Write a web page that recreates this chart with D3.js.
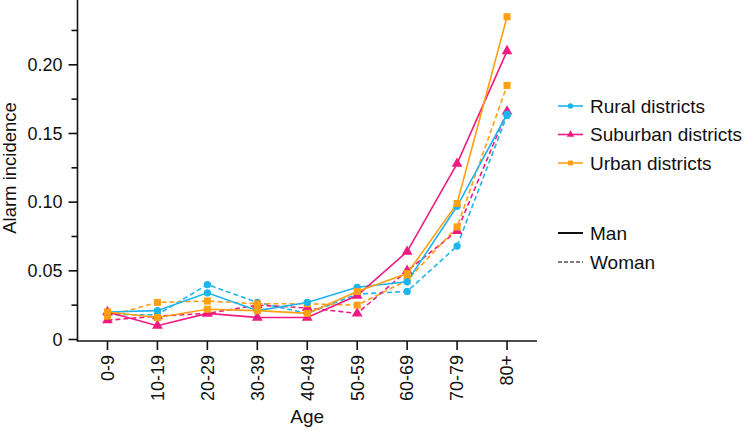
<!DOCTYPE html>
<html lang="en">
<head>
  <meta charset="UTF-8">
  <title>Alarm incidence by age</title>
  <script src="https://d3js.org/d3.v7.min.js"></script>
  <style>
    body { margin: 0; background: #fff; }
    text { font-family: "Liberation Sans", Arial, sans-serif; fill: #111; }
    .axis path, .axis line { stroke: #111; stroke-width: 1.6px; }
    .axis text { font-size: 18px; }
  </style>
</head>
<body>
  <div id="chart"></div>
  <script>
    const ages = ["0-9", "10-19", "20-29", "30-39", "40-49", "50-59", "60-69", "70-79", "80+"];
    const yTicks = [0, 0.05, 0.10, 0.15, 0.20];
    const yTickLabels = ["0", "0.05", "0.10", "0.15", "0.20"];

    const ruralMan     = [0.020, 0.021, 0.034, 0.021, 0.027, 0.038, 0.042, 0.097, 0.164];
    const ruralWoman   = [0.018, 0.018, 0.040, 0.027, 0.019, 0.033, 0.035, 0.068, 0.163];
    const suburbanMan  = [0.020, 0.010, 0.019, 0.016, 0.016, 0.032, 0.064, 0.128, 0.210];
    const suburbanWoman= [0.014, 0.017, 0.019, 0.025, 0.023, 0.019, 0.050, 0.079, 0.166];
    const urbanMan     = [0.020, 0.016, 0.022, 0.021, 0.019, 0.035, 0.048, 0.099, 0.235];
    const urbanWoman   = [0.017, 0.027, 0.028, 0.026, 0.026, 0.025, 0.043, 0.082, 0.185];

    const districts = ["Rural districts", "Suburban districts", "Urban districts"];
    const sexes = ["Man", "Woman"];
    const colors = { "Rural districts": "#1cb5ec", "Suburban districts": "#f01a80", "Urban districts": "#ffa013" };
    const symbols = { "Rural districts": d3.symbolCircle, "Suburban districts": d3.symbolTriangle, "Urban districts": d3.symbolSquare };

    const series = [
      { district: "Rural districts", sex: "Woman", values: ruralWoman },
      { district: "Suburban districts", sex: "Woman", values: suburbanWoman },
      { district: "Urban districts", sex: "Woman", values: urbanWoman },
      { district: "Rural districts", sex: "Man", values: ruralMan },
      { district: "Suburban districts", sex: "Man", values: suburbanMan },
      { district: "Urban districts", sex: "Man", values: urbanMan }
    ];

    const W = 744, H = 431;
    const svg = d3.select("#chart").append("svg").attr("width", W).attr("height", H);

    const x = d3.scalePoint().domain(ages).range([77.5, 537]).padding(0.6);
    const y = d3.scaleLinear().domain([0, 0.245]).range([339.5, 3]);

    // y axis (major + minor ticks)
    const yAxis = svg.append("g").attr("class", "axis").attr("transform", "translate(77.5,0)");
    yAxis.append("line").attr("y1", 0).attr("y2", 341);
    yAxis.selectAll(".minor").data(d3.range(0.025, 0.24, 0.05)).enter().append("line")
      .attr("x1", -6).attr("x2", 0).attr("y1", d => y(d)).attr("y2", d => y(d));
    yAxis.selectAll(".major").data(yTicks).enter().append("line")
      .attr("x1", -9).attr("x2", 0).attr("y1", d => y(d)).attr("y2", d => y(d));
    yAxis.selectAll(".lbl").data(yTicks).enter().append("text")
      .attr("x", -15).attr("y", d => y(d)).attr("dy", "0.35em")
      .attr("text-anchor", "end").text((d, i) => yTickLabels[i]);

    // x axis
    const xAxis = svg.append("g").attr("class", "axis").attr("transform", "translate(0,341)");
    xAxis.append("line").attr("x1", 76.7).attr("x2", 537);
    xAxis.selectAll(".tk").data(ages).enter().append("line")
      .attr("x1", d => x(d)).attr("x2", d => x(d)).attr("y1", 0).attr("y2", 9);
    xAxis.selectAll(".lbl").data(ages).enter().append("text")
      .attr("transform", d => `translate(${x(d)},14) rotate(-90)`)
      .attr("dy", "0.35em").attr("text-anchor", "end").text(d => d);

    svg.append("text").attr("x", x("40-49")).attr("y", 423).attr("text-anchor", "middle")
      .style("font-size", "19px").text("Age");
    svg.append("text").attr("transform", "translate(16,168) rotate(-90)")
      .attr("text-anchor", "middle").style("font-size", "18.5px").text("Alarm incidence");

    // lines
    const line = d3.line().x((d, i) => x(ages[i])).y(d => y(d));
    svg.selectAll(".series").data(series).enter().append("path")
      .attr("d", d => line(d.values))
      .attr("fill", "none")
      .attr("stroke", d => colors[d.district])
      .attr("stroke-width", 1.6)
      .attr("stroke-dasharray", d => d.sex === "Woman" ? "5,3" : null);

    // markers
    series.forEach(s => {
      svg.selectAll(null).data(s.values).enter().append("path")
        .attr("transform", (d, i) => `translate(${x(ages[i])},${y(d)})`)
        .attr("d", d3.symbol().type(symbols[s.district]).size(s.district === "Rural districts" ? 42 : 50))
        .attr("fill", colors[s.district]);
    });

    // legend
    const leg = svg.append("g").attr("transform", "translate(558,0)");
    districts.forEach((d, i) => {
      const yy = 106 + i * 28.5;
      leg.append("line").attr("x1", 0).attr("x2", 25).attr("y1", yy).attr("y2", yy)
        .attr("stroke", colors[d]).attr("stroke-width", 1.6);
      leg.append("path").attr("transform", `translate(12.5,${yy})`)
        .attr("d", d3.symbol().type(symbols[d]).size(24)).attr("fill", colors[d]);
      leg.append("text").attr("x", 32).attr("y", yy).attr("dy", "0.35em")
        .style("font-size", "19px").text(d);
    });
    sexes.forEach((s, i) => {
      const yy = 233 + i * 29;
      leg.append("line").attr("x1", 0).attr("x2", 25).attr("y1", yy).attr("y2", yy)
        .attr("stroke", s === "Man" ? "#111" : "#555").attr("stroke-width", s === "Man" ? 2 : 1.4)
        .attr("stroke-dasharray", s === "Woman" ? "4,2" : null);
      leg.append("text").attr("x", 32).attr("y", yy).attr("dy", "0.35em")
        .style("font-size", "19px").text(s);
    });
  </script>
</body>
</html>
